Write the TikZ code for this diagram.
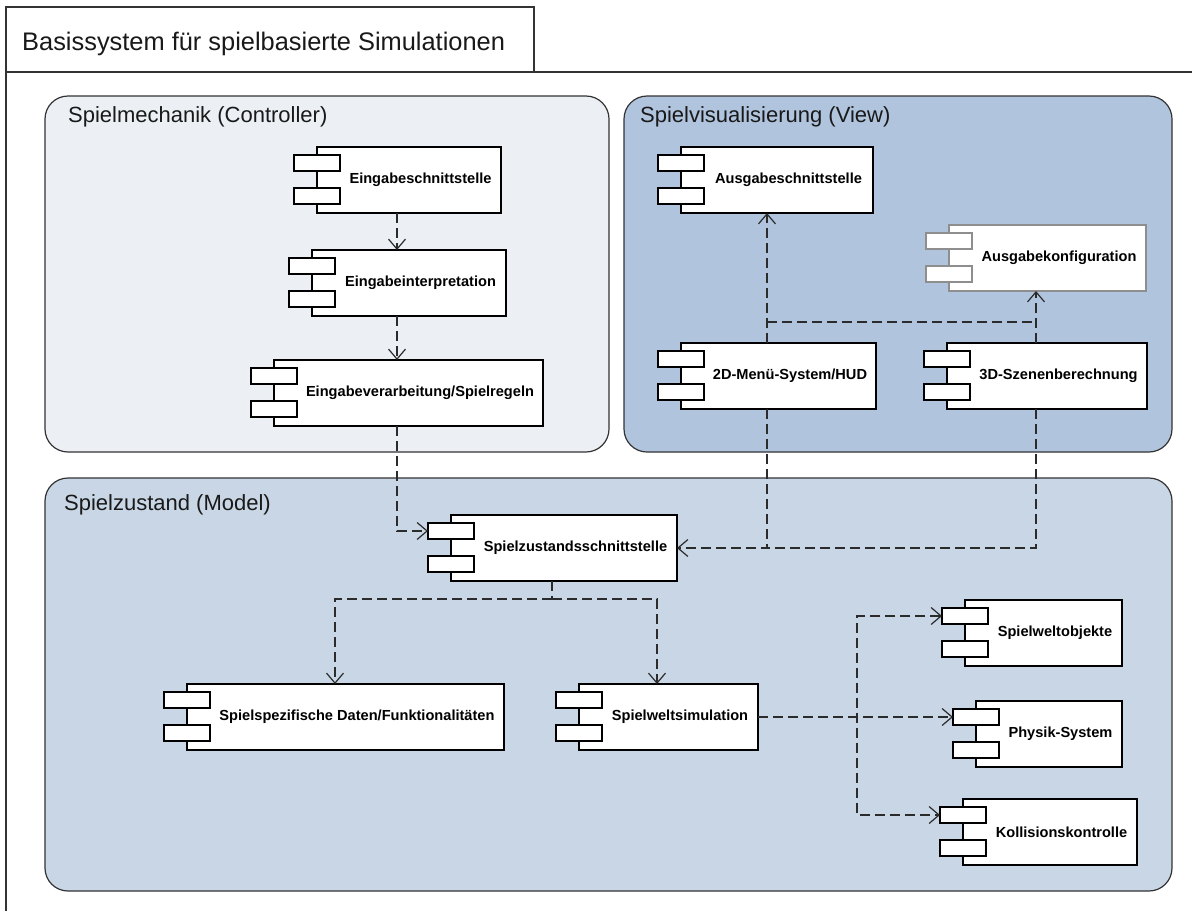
\documentclass[tikz,border=0pt]{standalone}
\usepackage{fontspec}
\setmainfont{Liberation Sans}
\usetikzlibrary{arrows.meta}
\definecolor{framecol}{HTML}{333333}
\definecolor{ctrlfill}{HTML}{ECF0F5}
\definecolor{viewfill}{HTML}{B0C4DE}
\definecolor{modelfill}{HTML}{C9D6E5}
\definecolor{linegrey}{HTML}{2B2B2B}
\definecolor{softgrey}{HTML}{8E8E8E}
\tikzset{
  frameline/.style={draw=framecol, line width=1.2pt},
  groupbox/.style={rectangle, draw=framecol, line width=1.2pt, rounded corners=23pt, anchor=north west, inner sep=0pt, outer sep=0pt},
  mainbox/.style={rectangle, draw=black, fill=white, line width=1.2pt, minimum height=66pt, inner sep=0pt, outer sep=0pt},
  port/.style={rectangle, draw=black, fill=white, line width=1.2pt, minimum width=46pt, minimum height=16pt, inner sep=0pt, outer sep=0pt},
  comptext/.style={font=\fontsize{14.6}{17}\selectfont\bfseries, inner sep=0pt, text=black},
  grouplabel/.style={font=\fontsize{22}{26}\selectfont, anchor=base west, inner sep=0pt, text=black!90},
  titlelabel/.style={font=\fontsize{25.4}{29}\selectfont, anchor=base west, inner sep=0pt, text=black!90},
  dep/.style={draw=linegrey, line width=1.2pt, dash pattern=on 10pt off 5pt},
  arr/.style={-{Straight Barb[length=10pt,width=17pt]}},
  arrboth/.style={{Straight Barb[length=10pt,width=17pt]}-{Straight Barb[length=10pt,width=17pt]}},
}
\newcommand\umlcomp[6][black]{%
  \node[mainbox, draw=#1, anchor=north west, minimum width={#5-#3-23}] (#2) at (#3+23,#4) {};
  \node[port, draw=#1, anchor=north west] (#2-a) at (#3,#4+8) {};
  \node[port, draw=#1, anchor=north west] (#2-b) at (#3,#4+41) {};
  \node[comptext] (#2-t) at ({(#3+46+#5)/2},{#4+33}) {#6};
}
\begin{document}
\begin{tikzpicture}[x=1pt,y=-1pt]
\useasboundingbox (0,0) rectangle (1192,911);
\fill[white] (0,0) rectangle (1192,911);
% outer frame with title tab
\draw[frameline] (6,911) -- (6,7) -- (534,7) -- (534,72);
\draw[frameline] (6,72) -- (1192,72);
\node[titlelabel] (title) at (22,50) {Basissystem für spielbasierte Simulationen};
% groups
\node[groupbox, fill=ctrlfill, minimum width=564, minimum height=356] (ctrl) at (45,96) {};
\node[groupbox, fill=viewfill, minimum width=548, minimum height=356] (view) at (624,96) {};
\node[groupbox, fill=modelfill, minimum width=1127, minimum height=413] (model) at (45,478) {};
\node[grouplabel] (ctrl-l) at (68,122) {Spielmechanik (Controller)};
\node[grouplabel] (view-l) at (640,122) {Spielvisualisierung (View)};
\node[grouplabel] (model-l) at (64,510) {Spielzustand (Model)};
% components
\umlcomp{ein}{294}{147}{501}{Eingabeschnittstelle}
\umlcomp{einint}{289}{250}{506}{Eingabeinterpretation}
\umlcomp{einver}{251}{360}{543}{Eingabeverarbeitung/Spielregeln}
\umlcomp{aus}{658}{147}{873}{Ausgabeschnittstelle}
\umlcomp[softgrey]{konf}{926}{225}{1146}{Ausgabekonfiguration}
\umlcomp{menu}{658}{343}{876}{2D-Menü-System/HUD}
\umlcomp{szen}{924}{343}{1147}{3D-Szenenberechnung}
\umlcomp{szs}{428}{515}{677}{Spielzustandsschnittstelle}
\umlcomp{spez}{164}{684}{504}{Spielspezifische Daten/Funktionalitäten}
\umlcomp{welt}{556}{684}{758}{Spielweltsimulation}
\umlcomp{wobj}{942}{600}{1122}{Spielweltobjekte}
\umlcomp{phys}{953}{701}{1122}{Physik-System}
\umlcomp{koll}{940}{799}{1137}{Kollisionskontrolle}
% helper coordinates
\coordinate (cxA) at (397,0);
\coordinate (cxB) at (767,0);
\coordinate (cxC) at (1036,0);
\coordinate (cxD) at (552,0);
\coordinate (cxE) at (335,0);
\coordinate (cxF) at (657,0);
\coordinate (cxG) at (857,0);
\coordinate (hL) at (767,322);
\coordinate (hR) at (1036,322);
\coordinate (jz) at (767,548);
\coordinate (jb) at (552,599);
% connectors
\draw[dep,arr] (cxA |- ein.south) -- (cxA |- einint.north);
\draw[dep,arr] (cxA |- einint.south) -- (cxA |- einver.north);
\draw[dep,arr] (cxA |- einver.south) |- (szs-a.west);
\draw[dep,arr] (cxB |- menu.north) -- (cxB |- aus.south);
\draw[dep,arr] (cxC |- szen.north) -- (cxC |- konf.south);
\draw[dep] (hL) -- (hR);
\draw[dep,arr] (cxB |- menu.south) |- (szs.east);
\draw[dep] (cxC |- szen.south) |- (jz);
\draw[dep] (cxD |- szs.south) -- (jb);
\draw[dep,arr] (jb) -| (cxE |- spez.north);
\draw[dep,arr] (jb) -| (cxF |- welt.north);
\draw[dep,arr] (welt.east) -- (phys-a.west);
\draw[dep,arrboth] (wobj-a.west) -| (cxG |- welt.east) |- (koll-a.west);
\end{tikzpicture}
\end{document}
